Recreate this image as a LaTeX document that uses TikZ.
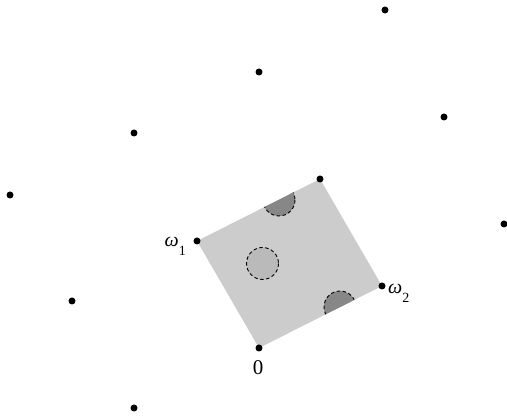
\documentclass[tikz,border=0pt]{standalone}
\usepackage{fontspec}
\setmainfont{Liberation Serif}
\newcommand{\mysub}[1]{\raisebox{-9pt}{\fontsize{14}{14}\selectfont #1}}
\begin{document}
\begin{tikzpicture}[x=1pt,y=-1pt,
  dot/.style={circle,fill=black,inner sep=0pt,minimum size=7pt},
  lbl/.style={font=\fontsize{20}{22}\selectfont,inner sep=0pt},
  dashcirc/.style={draw=black,dash pattern=on 3.5pt off 2.5pt,line width=0.9pt}]
\useasboundingbox (0,0) rectangle (507,419);
\definecolor{cellgray}{gray}{0.80}
\definecolor{circgray}{gray}{0.73}
\definecolor{halfgray}{gray}{0.53}
% parallelogram
\fill[cellgray] (259,348) -- (382,286) -- (320,179) -- (197,241) -- cycle;
% inner circle
\filldraw[fill=circgray,dashcirc] (262.5,263.5) circle (16);
% half discs
\begin{scope}
\clip (259,348) -- (382,286) -- (320,179) -- (197,241) -- cycle;
\filldraw[fill=halfgray,dashcirc] (340,307) circle (16);
\filldraw[fill=halfgray,dashcirc] (279,200) circle (16);
\end{scope}
% lattice points
\node[dot] (o) at (259,348) {};
\node[dot] (w1) at (197,241) {};
\node[dot] (w2) at (382,286) {};
\node[dot] (w12) at (320,179) {};
\node[dot] (p1) at (385,10) {};
\node[dot] (p2) at (259,72) {};
\node[dot] (p3) at (444,117) {};
\node[dot] (p4) at (134,133) {};
\node[dot] (p5) at (10,195) {};
\node[dot] (p6) at (504,224) {};
\node[dot] (p7) at (72,301) {};
\node[dot] (p8) at (134,408) {};
% labels
\node[lbl,anchor=base east] (lw1) at ([xshift=-11pt,yshift=-6pt]w1.center) {\itshape ω\mysub{\upshape 1}};
\node[lbl,anchor=base west] (lw2) at ([xshift=6pt,yshift=-8pt]w2.center) {\itshape ω\mysub{\upshape 2}};
\node[lbl,anchor=base,font=\fontsize{21}{23}\selectfont] (lo) at ([xshift=-1pt,yshift=-27pt]o.center) {0};
\end{tikzpicture}
\end{document}
